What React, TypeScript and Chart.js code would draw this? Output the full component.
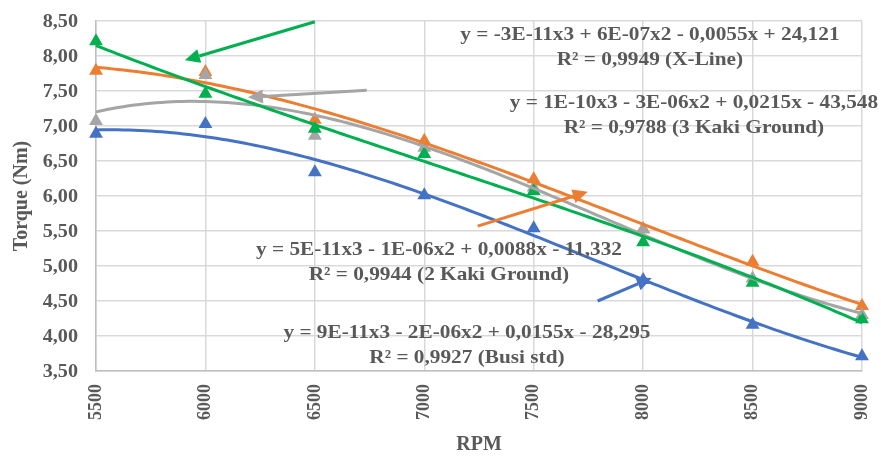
import React, { useEffect, useRef } from "react";
import { Chart, registerables } from "chart.js";

Chart.register(...registerables);

// Engine speed (RPM) and measured torque (Nm) for each spark plug variant
const rpm = [5500, 6000, 6500, 7000, 7500, 8000, 8500, 9000];
const busiStd = [6.89, 7.03, 6.34, 6.01, 5.54, 4.8, 4.16, 3.71];
const xLine = [7.79, 7.77, 7.09, 6.79, 6.24, 5.53, 5.06, 4.43];
const kaki3 = [7.07, 7.73, 6.86, 6.69, 6.12, 5.52, 4.82, 4.3];
const kaki2 = [8.21, 7.46, 6.96, 6.6, 6.07, 5.34, 4.76, 4.24];

const yTicks = { min: 3.5, max: 8.5, step: 0.5 };
const xTicks = { min: 5500, max: 9000, step: 500 };

// Trendline equations as printed on the chart
const eqXLine = ["y = -3E-11x3 + 6E-07x2 - 0,0055x + 24,121", "R² = 0,9949 (X-Line)"];
const eqKaki3 = ["y = 1E-10x3 - 3E-06x2 + 0,0215x - 43,548", "R² = 0,9788 (3 Kaki Ground)"];
const eqKaki2 = ["y = 5E-11x3 - 1E-06x2 + 0,0088x - 11,332", "R² = 0,9944 (2 Kaki Ground)"];
const eqBusi = ["y = 9E-11x3 - 2E-06x2 + 0,0155x - 28,295", "R² = 0,9927 (Busi std)"];

const BLUE = "#4472C4";
const ORANGE = "#ED7D31";
const GRAY = "#A5A5A5";
const GREEN = "#00B050";
const TEXT = "#595959";
const FONT = "'Liberation Serif', 'Times New Roman', serif";
const WIDE = 1.12; // horizontal widening of the serif lettering

// Equation label anchors (RPM, torque) for the first line of each label
const labelAnchors = [
  { lines: eqXLine, at: [8031, 8.3] },
  { lines: eqKaki3, at: [8232, 7.33] },
  { lines: eqKaki2, at: [7067, 5.23] },
  { lines: eqBusi, at: [7195, 4.04] },
];

// Callout arrows (tail -> head) in data units
const arrows = [
  { from: [6500, 8.49], to: [5906, 7.94], color: GREEN },
  { from: [6737, 7.51], to: [6194, 7.41], color: GRAY },
  { from: [7244, 5.57], to: [7747, 6.06], color: ORANGE },
  { from: [7792, 4.5], to: [8039, 4.83], color: BLUE },
];

// Least-squares cubic fit on a normalised x to keep the system well-conditioned
function cubicFit(xs: number[], ys: number[]) {
  const cx = 7250, sx = 1750;
  const n = 4;
  const A: number[][] = Array.from({ length: n }, () => new Array(n + 1).fill(0));
  xs.forEach((xv, k) => {
    const t = (xv - cx) / sx;
    const pw = [1, t, t * t, t * t * t];
    for (let i = 0; i < n; i++) {
      for (let j = 0; j < n; j++) A[i][j] += pw[i] * pw[j];
      A[i][n] += pw[i] * ys[k];
    }
  });
  for (let i = 0; i < n; i++) {
    let p = i;
    for (let r = i + 1; r < n; r++) if (Math.abs(A[r][i]) > Math.abs(A[p][i])) p = r;
    [A[i], A[p]] = [A[p], A[i]];
    for (let r = 0; r < n; r++) {
      if (r === i) continue;
      const f = A[r][i] / A[i][i];
      for (let c = i; c <= n; c++) A[r][c] -= f * A[i][c];
    }
  }
  const coef = A.map((row, i) => row[n] / row[i]);
  return (xv: number) => {
    const t = (xv - cx) / sx;
    return coef[0] + coef[1] * t + coef[2] * t * t + coef[3] * t * t * t;
  };
}

function trendPoints(ys: number[]) {
  const f = cubicFit(rpm, ys);
  const pts: { x: number; y: number }[] = [];
  for (let xv = rpm[0]; xv <= rpm[rpm.length - 1]; xv += 25) pts.push({ x: xv, y: f(xv) });
  return pts;
}

const fmtTorque = (v: number) => v.toFixed(2).replace(".", ",");

function wideText(ctx: CanvasRenderingContext2D, s: string, x: number, y: number) {
  ctx.save();
  ctx.translate(x, y);
  ctx.scale(WIDE, 1);
  ctx.fillText(s, 0, 0);
  ctx.restore();
}

const annotationsPlugin = {
  id: "annotations",
  afterDatasetsDraw(chart: any) {
    const { ctx, scales } = chart;
    const xs = scales.x, ys = scales.y;
    ctx.save();
    for (const a of arrows) {
      const x1 = xs.getPixelForValue(a.from[0]), y1 = ys.getPixelForValue(a.from[1]);
      const x2 = xs.getPixelForValue(a.to[0]), y2 = ys.getPixelForValue(a.to[1]);
      const ang = Math.atan2(y2 - y1, x2 - x1);
      const headLen = 15, headW = 7;
      const bx = x2 - Math.cos(ang) * headLen, by = y2 - Math.sin(ang) * headLen;
      ctx.strokeStyle = a.color;
      ctx.fillStyle = a.color;
      ctx.lineWidth = 3;
      ctx.beginPath();
      ctx.moveTo(x1, y1);
      ctx.lineTo(bx, by);
      ctx.stroke();
      ctx.beginPath();
      ctx.moveTo(x2, y2);
      ctx.lineTo(bx + Math.sin(ang) * headW, by - Math.cos(ang) * headW);
      ctx.lineTo(bx - Math.sin(ang) * headW, by + Math.cos(ang) * headW);
      ctx.closePath();
      ctx.fill();
    }
    ctx.fillStyle = TEXT;
    ctx.font = `bold 19px ${FONT}`;
    ctx.textAlign = "center";
    ctx.textBaseline = "middle";
    for (const l of labelAnchors) {
      const x = xs.getPixelForValue(l.at[0]);
      const y = ys.getPixelForValue(l.at[1]);
      l.lines.forEach((s, i) => wideText(ctx, s, x, y + i * 25));
    }
    // torque tick labels, right-aligned beside the value axis
    ctx.font = `bold 18px ${FONT}`;
    ctx.textAlign = "right";
    for (const t of ys.ticks) {
      wideText(ctx, fmtTorque(t.value), ys.right - 18, ys.getPixelForValue(t.value) + 1);
    }
    ctx.restore();
  },
};

export default function App() {
  const ref = useRef<HTMLCanvasElement>(null);

  useEffect(() => {
    document.body.style.margin = "0";
    const canvas = ref.current!;
    const tickFont = { family: FONT, size: 18, weight: "bold" as const };
    const series = [
      { label: "2 Kaki Ground", data: kaki2, color: GREEN },
      { label: "3 Kaki Ground", data: kaki3, color: GRAY },
      { label: "X-Line", data: xLine, color: ORANGE },
      { label: "Busi std", data: busiStd, color: BLUE },
    ];
    const trendSets = series.map((s, i) => ({
      type: "line" as const,
      label: s.label + " trend",
      data: trendPoints(s.data),
      borderColor: s.color,
      borderWidth: 3,
      pointRadius: 0,
      fill: false,
      clip: false,
      order: i,
    }));
    const markerSets = series.map((s, i) => ({
      type: "scatter" as const,
      label: s.label,
      data: rpm.map((x, k) => ({ x, y: s.data[k] })),
      pointStyle: "triangle" as const,
      pointRadius: 8,
      backgroundColor: s.color,
      borderColor: s.color,
      borderWidth: 0,
      clip: false,
      order: 4 + i,
    }));

    const chart = new Chart(canvas, {
      type: "scatter",
      data: { datasets: [...trendSets, ...markerSets] as any },
      plugins: [annotationsPlugin],
      options: {
        responsive: false,
        animation: false,
        devicePixelRatio: 1,
        layout: { padding: { top: 21, right: 19, left: 0, bottom: 0 } },
        plugins: { legend: { display: false }, tooltip: { enabled: false } },
        scales: {
          x: {
            type: "linear",
            min: xTicks.min,
            max: xTicks.max,
            ticks: {
              stepSize: xTicks.step,
              minRotation: 90,
              maxRotation: 90,
              padding: 13,
              color: TEXT,
              font: tickFont,
              callback: (v: any) => String(v),
            },
            grid: { color: "#D9D9D9", lineWidth: 1.5, drawTicks: false },
            border: { color: "#BFBFBF", width: 1.5 },
            title: {
              display: true,
              text: "RPM",
              color: TEXT,
              font: { family: FONT, size: 20, weight: "bold" },
              padding: { top: 0, bottom: 0 },
            },
            afterFit: (s: any) => {
              s.height = 86;
              s.paddingLeft = 0;
              s.paddingRight = 0;
            },
          },
          y: {
            min: yTicks.min,
            max: yTicks.max,
            ticks: {
              stepSize: yTicks.step,
              padding: 18,
              color: "rgba(0,0,0,0)",
              font: tickFont,
              callback: (v: any) => fmtTorque(Number(v)),
            },
            grid: { color: "#D9D9D9", lineWidth: 1.5, drawTicks: false },
            border: { color: "#BFBFBF", width: 1.5 },
            title: {
              display: true,
              text: "Torque (Nm)",
              color: TEXT,
              font: { family: FONT, size: 20, weight: "bold" },
              padding: { top: 10, bottom: 0 },
            },
            afterFit: (s: any) => {
              s.width = 96;
              s.paddingTop = 0;
              s.paddingBottom = 0;
            },
          },
        },
      },
    });
    return () => chart.destroy();
  }, []);

  return (
    <div style={{ width: 881, height: 457, position: "relative" }}>
      <canvas ref={ref} width={881} height={457} />
    </div>
  );
}
